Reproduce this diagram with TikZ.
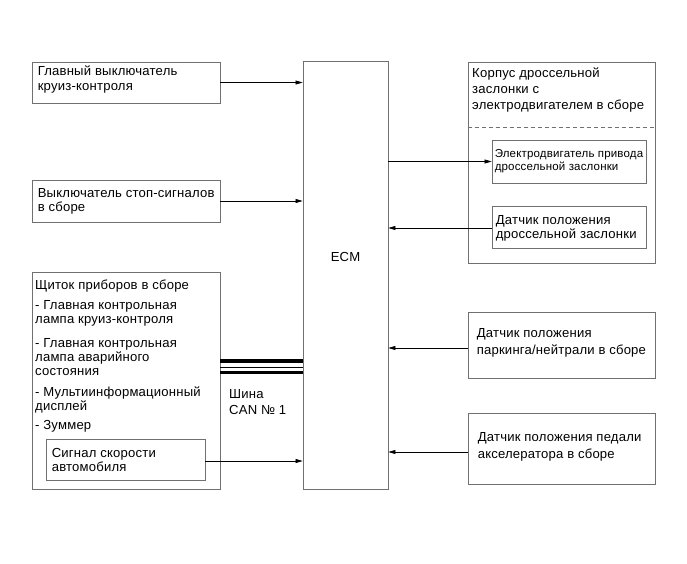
\documentclass[tikz,border=0pt]{standalone}
\usepackage{fontspec}
\setmainfont{Liberation Sans}[LetterSpace=1.5]
\usetikzlibrary{arrows.meta,calc}
\definecolor{boxgray}{HTML}{707070}
\begin{document}
\begin{tikzpicture}[x=1pt,y=-1pt,
  box/.style={draw=boxgray, line width=0.8pt, rectangle, inner sep=0pt, anchor=center},
  txt/.style={inner sep=0pt, align=left, font=\fontsize{13.1}{15}\selectfont},
  small/.style={inner sep=0pt, align=left, font=\fontsize{11.5}{13}\selectfont},
  arr/.style={draw=black, line width=0.6pt, -{Triangle[length=7pt,width=4pt]}},
]
\useasboundingbox (0,0) rectangle (687,563);
\fill[white] (0,0) rectangle (687,563);

% ECM
\node[box, minimum width=85pt, minimum height=428pt] (ecm) at (345.5,275) {};
\node[txt] (ecmt) at (345.5,257) {ECM};

% left boxes
\node[box, minimum width=188pt, minimum height=41pt] (b1) at (126,82.5) {};
\node[txt, anchor=west, yshift=3.5pt, font=\fontsize{13.1}{15}\selectfont] (b1t) at ([xshift=6pt]b1.west) {Главный выключатель\\круиз-контроля};

\node[box, minimum width=188pt, minimum height=42pt] (b2) at (126,201) {};
\node[txt, anchor=west, font=\fontsize{13.1}{14}\selectfont] (b2t) at ([xshift=6pt]b2.west) {Выключатель стоп-сигналов\\в сборе};

\node[box, minimum width=188pt, minimum height=217pt] (dash) at (126,380.5) {};
\node[txt, anchor=north west, font=\fontsize{13.1}{14}\selectfont] (dasht) at (35,279.5) {Щиток приборов в сборе\\[6pt]
 - Главная контрольная\\лампа круиз-контроля\\[10pt]
 - Главная контрольная\\лампа аварийного\\состояния\\[7pt]
 - Мультиинформационный\\дисплей\\[5pt]
 - Зуммер};

\node[box, minimum width=159pt, minimum height=41pt] (spd) at (125.5,459.5) {};
\node[txt, anchor=west, font=\fontsize{13.1}{14}\selectfont] (spdt) at ([xshift=6pt]spd.west) {Сигнал скорости\\автомобиля};

% right boxes
\node[box, minimum width=187pt, minimum height=201pt] (tb) at (561.5,162.5) {};
\node[txt, anchor=north west, font=\fontsize{13.1}{16}\selectfont] (tbt) at (472,67.5) {Корпус дроссельной\\заслонки с\\электродвигателем в сборе};
\draw[boxgray, line width=0.8pt, dash pattern=on 4pt off 3pt] (tb.west |- 0,127) -- (tb.east |- 0,127);

\node[box, minimum width=154pt, minimum height=43pt] (mot) at (569,161.5) {};
\node[small, anchor=west] (mott) at ([xshift=3pt]mot.west) {Электродвигатель привода\\дроссельной заслонки};

\node[box, minimum width=154pt, minimum height=42pt] (tps) at (569,227) {};
\node[txt, anchor=west, yshift=-1.5pt, font=\fontsize{13.1}{14}\selectfont] (tpst) at ([xshift=4pt]tps.west) {Датчик положения\\дроссельной заслонки};

\node[box, minimum width=187pt, minimum height=66pt] (pnp) at (561.5,345) {};
\node[txt, anchor=west, yshift=2pt, font=\fontsize{13.1}{17}\selectfont] (pnpt) at ([xshift=9pt]pnp.west) {Датчик положения\\паркинга/нейтрали в сборе};

\node[box, minimum width=187pt, minimum height=71pt] (app) at (561.5,448.5) {};
\node[txt, anchor=west, yshift=2pt, font=\fontsize{13.1}{17}\selectfont] (appt) at ([xshift=10pt]app.west) {Датчик положения педали\\акселератора в сборе};

% arrows
\draw[arr] (b1.east) -- (b1.east -| ecm.west);
\draw[arr] (b2.east) -- (b2.east -| ecm.west);
\draw[arr] ([yshift=-1.5pt]spd.east) -- ([yshift=-1.5pt]spd.east -| ecm.west);
\draw[arr] (ecm.east |- mot.west) -- (mot.west);
\draw[arr] ([yshift=-1pt]tps.west) -- ([yshift=-1pt]tps.west -| ecm.east);
\draw[arr] ([yshift=-3pt]pnp.west) -- ([yshift=-3pt]pnp.west -| ecm.east);
\draw[arr] ([yshift=-3.5pt]app.west) -- ([yshift=-3.5pt]app.west -| ecm.east);

% CAN bus
\draw[line width=3.5pt] (dash.east |- 0,361) -- (ecm.west |- 0,361);
\draw[line width=1pt] (dash.east |- 0,367) -- (ecm.west |- 0,367);
\draw[line width=3pt] (dash.east |- 0,372.5) -- (ecm.west |- 0,372.5);
\node[txt, anchor=north west, font=\fontsize{13.1}{16}\selectfont] (cant) at (229,389) {Шина\\CAN № 1};
\end{tikzpicture}
\end{document}
